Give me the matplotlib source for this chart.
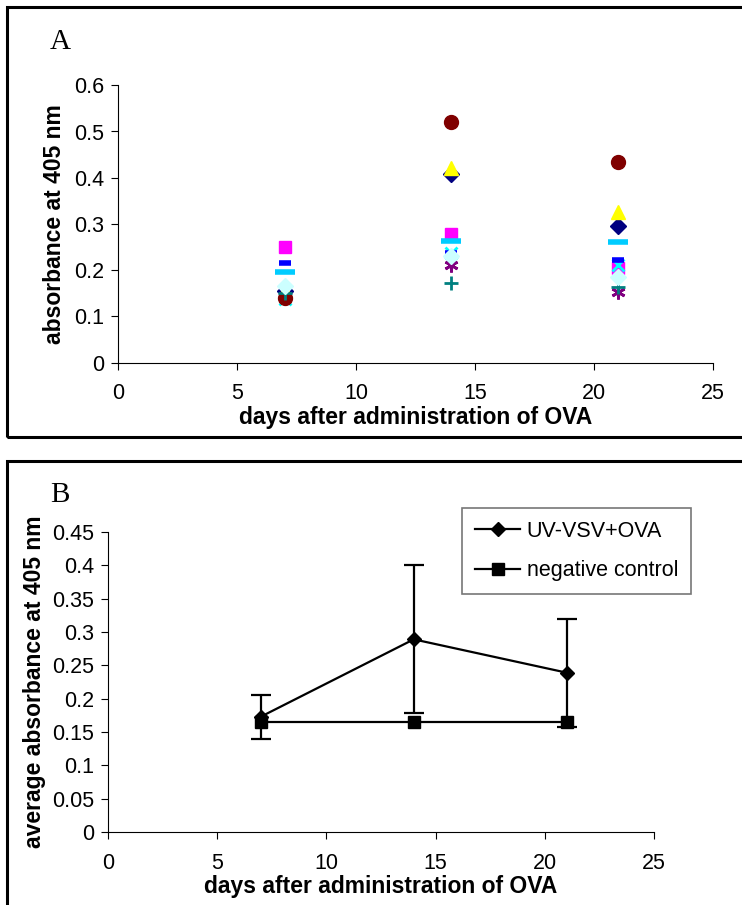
import matplotlib
matplotlib.use("Agg")
import matplotlib.pyplot as plt
from matplotlib.patches import Rectangle
from matplotlib.lines import Line2D

plt.rcParams['font.family'] = ['Liberation Sans', 'DejaVu Sans']

# ---------------- data ----------------
days = [7, 14, 21]

# Panel A: individual animals (10 series)
s1_navy_diamond = [0.155, 0.407, 0.295]
s2_magenta_square = [0.249, 0.278, 0.205]
s3_yellow_triangle = [0.155, 0.420, 0.325]
s4_cyan_x = [0.138, 0.238, 0.210]
s5_purple_star = [0.145, 0.210, 0.152]
s6_maroon_circle = [0.140, 0.520, 0.433]
s7_teal_plus = [0.150, 0.171, 0.163]
s8_blue_dash = [0.215, 0.238, 0.221]
s9_skyblue_dash = [0.195, 0.262, 0.260]
s10_turq_diamond = [0.165, 0.230, 0.186]

# Panel B: averages
uv_mean = [0.173, 0.289, 0.239]
uv_err = [0.033, 0.111, 0.081]
neg_mean = [0.165, 0.165, 0.165]

xticks = [0, 5, 10, 15, 20, 25]
yticks_a = [0, 0.1, 0.2, 0.3, 0.4, 0.5, 0.6]
yticklabels_a = ["0", "0.1", "0.2", "0.3", "0.4", "0.5", "0.6"]
yticks_b = [0, 0.05, 0.1, 0.15, 0.2, 0.25, 0.3, 0.35, 0.4, 0.45]
yticklabels_b = ["0", "0.05", "0.1", "0.15", "0.2", "0.25", "0.3", "0.35", "0.4", "0.45"]

W, H = 742, 905
fig = plt.figure(figsize=(W / 100, H / 100), dpi=100)


def fx(px):
    return px / W


def fy(py):
    return 1 - py / H


# outer frames
fig.patches.append(Rectangle((fx(7), fy(437)), fx(760) - fx(7), fy(7) - fy(437),
                             transform=fig.transFigure, fill=False, lw=2.2, ec='black'))
fig.patches.append(Rectangle((fx(7), fy(920)), fx(760) - fx(7), fy(461) - fy(920),
                             transform=fig.transFigure, fill=False, lw=2.2, ec='black'))

TICK_FS = 15.5
LAB_FS = 16.5

axA = fig.add_axes([fx(118), fy(362.5), fx(713) - fx(118), fy(85.3) - fy(362.5)])
axB = fig.add_axes([fx(108), fy(832), fx(654) - fx(108), fy(532) - fy(832)])

for ax in (axA, axB):
    ax.spines['top'].set_visible(False)
    ax.spines['right'].set_visible(False)
    for s in ('left', 'bottom'):
        ax.spines[s].set_linewidth(0.8)
        ax.spines[s].set_color('black')
    ax.tick_params(direction='out', length=5, width=0.8, labelsize=TICK_FS, pad=5)
    ax.tick_params(axis='x', pad=10)
    ax.set_xlim(0, 25)
    ax.set_xticks(xticks)
    ax.set_xticklabels([str(t) for t in xticks])

# ---------- Panel A ----------
ms = 9
axA.plot(days, s1_navy_diamond, ls='none', marker='D', ms=ms * 0.85, color='#000080', clip_on=False)
axA.plot(days, s2_magenta_square, ls='none', marker='s', ms=ms, color='#FF00FF', clip_on=False)
axA.plot(days, s3_yellow_triangle, ls='none', marker='^', ms=ms + 1, color='#FFFF00', clip_on=False)
axA.plot(days, s4_cyan_x, ls='none', marker='x', ms=ms, mew=2, color='#00FFFF', clip_on=False)
axA.plot(days, s5_purple_star, ls='none', marker=(6, 2, 0), ms=ms + 1, mew=2, color='#800080', clip_on=False)
axA.plot(days, s6_maroon_circle, ls='none', marker='o', ms=ms + 1, color='#800000', clip_on=False)
axA.plot(days, s7_teal_plus, ls='none', marker='+', ms=ms + 1, mew=2, color='#008080', clip_on=False)
axA.plot(days, s8_blue_dash, ls='none', marker='_', ms=8, mew=4, color='#0000FF', clip_on=False)
axA.plot(days, s9_skyblue_dash, ls='none', marker='_', ms=14, mew=4, color='#00CCFF', clip_on=False)
axA.plot(days, s10_turq_diamond, ls='none', marker='D', ms=ms * 0.85, color='#CCFFFF', mec='#CCFFFF', clip_on=False)

axA.set_ylim(0, 0.6)
axA.set_yticks(yticks_a)
axA.set_yticklabels(yticklabels_a)
axA.set_xlabel('days after administration of OVA', fontsize=LAB_FS, fontweight='bold', labelpad=1)
axA.set_ylabel('absorbance at 405 nm', fontsize=LAB_FS, fontweight='bold', labelpad=6)

fig.text(fx(50), fy(42), 'A', fontsize=21, family=['Liberation Serif'], va='center', ha='left')

# ---------- Panel B ----------
axB.errorbar(days, uv_mean, yerr=uv_err, color='black', lw=1.6, marker='D', ms=7,
             capsize=7, capthick=1.6, elinewidth=1.6, clip_on=False)
axB.plot(days, neg_mean, color='black', lw=1.6, marker='s', ms=8, clip_on=False)

axB.set_ylim(0, 0.45)
axB.set_yticks(yticks_b)
axB.set_yticklabels(yticklabels_b)
axB.set_xlabel('days after administration of OVA', fontsize=LAB_FS, fontweight='bold', labelpad=1)
axB.set_ylabel('average absorbance at 405 nm', fontsize=LAB_FS, fontweight='bold', labelpad=4)

handles = [Line2D([], [], color='black', lw=1.6, marker='D', ms=7),
           Line2D([], [], color='black', lw=1.6, marker='s', ms=8)]
labels = ['UV-VSV+OVA', 'negative control']
leg = axB.legend(handles, labels, loc='upper left', bbox_to_anchor=(fx(462), fy(508)),
                 bbox_transform=fig.transFigure,
                 frameon=True, fancybox=False, edgecolor='#555555', fontsize=15.5,
                 handlelength=2.1, borderpad=0.6, labelspacing=0.85, handletextpad=0.3,
                 borderaxespad=0)
leg.get_frame().set_linewidth(1.2)

fig.text(fx(50), fy(495), 'B', fontsize=21, family=['Liberation Serif'], va='center', ha='left')

fig.savefig('out.png', dpi=100)
